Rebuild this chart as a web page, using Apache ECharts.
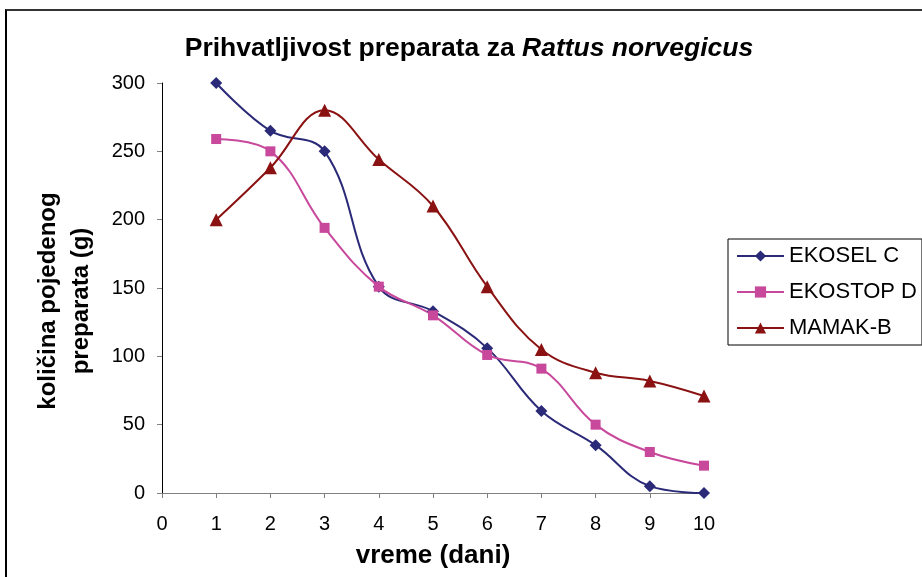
<!DOCTYPE html>
<html><head><meta charset="utf-8">
<script src="https://cdn.jsdelivr.net/npm/echarts@6/dist/echarts.min.js"></script>
<style>html,body{margin:0;padding:0;background:#fff}#c{width:922px;height:577px}
#frame{position:absolute;left:5px;top:9px;width:917px;height:568px;border-left:2px solid #000;border-top:2px solid #333;pointer-events:none}</style>
</head><body><div id="c"></div><div id="frame"></div>
<script>
const days = [1,2,3,4,5,6,7,8,9,10];
const xTicks = [0,1,2,3,4,5,6,7,8,9,10];
const seriesNames = ['EKOSEL C','EKOSTOP D','MAMAK-B'];
const ekoselC = [300,265,250,151,133,106,60,35,5,0];
const ekostopD = [259,250,194,151,130,101,91,50,30,20];
const mamakB = [200,238,280,244,210,151,105,88,82,71];

const chart = echarts.init(document.getElementById('c'));
const font = 'Arial, "Liberation Sans", sans-serif';
function pairs(v){return days.map((d,i)=>[d,v[i]]);}
function mk(name,data,color,symbol,size){
  return {name,type:'line',data:pairs(data),smooth:0.4,symbol,symbolSize:size,
    lineStyle:{color,width:2},itemStyle:{color},showSymbol:true};
}
chart.setOption({
  animation:false,
  backgroundColor:'#fff',
  title:{text:'{b|Prihvatljivost preparata za }{i|Rattus norvegicus}',left:464,top:30,textAlign:'center',
    textStyle:{rich:{b:{fontFamily:font,fontSize:26.5,fontWeight:'bold',color:'#000'},
      i:{fontFamily:font,fontSize:26.5,fontWeight:'bold',fontStyle:'italic',color:'#000'}}}},
  grid:{left:162,right:218,top:83,bottom:84},
  legend:{orient:'vertical',left:728,top:239,data:seriesNames,
    itemWidth:47,itemHeight:14,itemGap:14,
    padding:[6,5,6,8],borderColor:'#000',borderWidth:1,backgroundColor:'#fff',
    textStyle:{fontFamily:font,fontSize:22,lineHeight:22,color:'#000'}},
  xAxis:{type:'value',min:0,max:10,interval:1,
    name:'vreme (dani)',nameLocation:'middle',nameGap:50,
    nameTextStyle:{fontFamily:font,fontSize:26,fontWeight:'bold',color:'#000'},
    axisLine:{lineStyle:{color:'#808080',width:1}},
    axisTick:{show:true,length:5,lineStyle:{color:'#808080'}},
    splitLine:{show:false},
    axisLabel:{fontFamily:font,fontSize:20,color:'#000',margin:21,
      formatter:v=>xTicks.includes(v)?String(v):''}},
  yAxis:{type:'value',min:0,max:300,interval:50,
    name:'količina pojedenog\npreparata (g)',nameLocation:'middle',nameGap:64,nameRotate:90,
    nameTextStyle:{fontFamily:font,fontSize:24,fontWeight:'bold',color:'#000',lineHeight:33,padding:[0,26,0,0]},
    axisLine:{show:true,lineStyle:{color:'#000',width:1}},
    axisTick:{show:true,inside:false,length:5,lineStyle:{color:'#808080'}},
    splitLine:{show:false},
    axisLabel:{fontFamily:font,fontSize:20,color:'#000',margin:17}},
  series:[
    mk(seriesNames[0],ekoselC,'#2a2a78','diamond',12),
    mk(seriesNames[1],ekostopD,'#c8489c','rect',10),
    mk(seriesNames[2],mamakB,'#8b1212','triangle',13)
  ]
});
</script></body></html>
